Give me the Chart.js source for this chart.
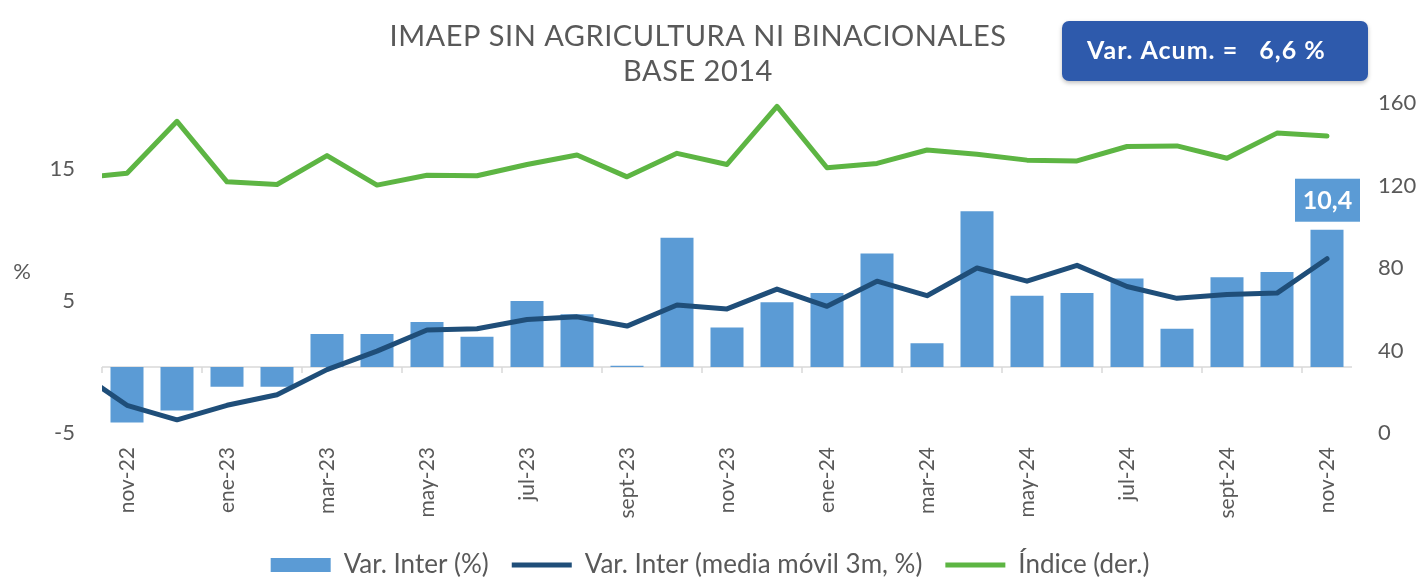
<!DOCTYPE html>
<html>
<head>
<meta charset="utf-8">
<script src="https://cdn.jsdelivr.net/npm/chart.js@4.4.1/dist/chart.umd.min.js"></script>
<style>
  html, body { margin: 0; padding: 0; background: #ffffff; }
  #wrap { width: 1420px; height: 577px; position: relative; }
</style>
</head>
<body>
<div id="wrap"><canvas id="imaep-chart"></canvas></div>
<script>
// months on the x axis (nov-22 .. nov-24)
const categories = [
  "nov-22", "dic-22", "ene-23", "feb-23", "mar-23", "abr-23", "may-23", "jun-23",
  "jul-23", "ago-23", "sept-23", "oct-23", "nov-23", "dic-23", "ene-24", "feb-24",
  "mar-24", "abr-24", "may-24", "jun-24", "jul-24", "ago-24", "sept-24", "oct-24", "nov-24"
];

// Var. Inter (%) - bars, left axis
const varInter = [
  -4.2, -3.3, -1.5, -1.5, 2.5, 2.5, 3.4, 2.3, 5.0, 4.0, 0.1, 9.8, 3.0,
  4.9, 5.6, 8.6, 1.8, 11.8, 5.4, 5.6, 6.7, 2.9, 6.8, 7.2, 10.4
];

// Var. Inter (media movil 3m, %) - dark line, left axis
const mediaMovil = [
  -2.9, -4.0, -2.9, -2.1, -0.2, 1.2, 2.8, 2.9, 3.6, 3.8, 3.1, 4.7, 4.4,
  5.9, 4.6, 6.5, 5.4, 7.5, 6.5, 7.7, 6.1, 5.2, 5.5, 5.6, 8.2
];

// Indice (der.) - green line, right axis
const indice = [
  125.9, 151.1, 121.8, 120.5, 134.5, 120.2, 125.0, 124.7, 130.2, 134.8, 124.2, 135.6, 130.2,
  158.4, 128.6, 130.7, 137.2, 135.1, 132.3, 131.9, 138.9, 139.2, 133.2, 145.4, 144.0
];

// month before the first category (oct-22): the lines come in from the plot edge
const prevMonth = "oct-22";
const mediaMovilPrev = -0.3;
const indicePrev = 123.5;

const leftTicks = [-5, 5, 15];
const rightTicks = [0, 40, 80, 120, 160];
const lastLabel = "10,4";
const accumText = "Var. Acum. =   6,6 %";
const titleLines = ["IMAEP SIN AGRICULTURA NI BINACIONALES", "BASE 2014"];

const FONT = 'Lato, "Open Sans", sans-serif';
const GREY = "#595959";

Chart.defaults.font.family = FONT;
Chart.defaults.color = GREY;

function linePoints(prev, values) {
  let pts = [{ x: -1, y: prev }];
  values.forEach((v, i) => pts.push({ x: i, y: v }));
  return pts;
}

// zero line with small tick marks, and the texts around the plot
const decorations = {
  id: "decorations",
  beforeDatasetsDraw(chart) {
    const { ctx, chartArea, scales } = chart;
    const y0 = scales.y.getPixelForValue(0);
    ctx.save();
    ctx.strokeStyle = "#d9d9d9";
    ctx.lineWidth = 1.5;
    ctx.beginPath();
    ctx.moveTo(chartArea.left, y0);
    ctx.lineTo(chartArea.right, y0);
    for (let i = -0.5; i <= categories.length; i += 2) {
      const px = scales.x.getPixelForValue(i);
      ctx.moveTo(px, y0);
      ctx.lineTo(px, y0 + 6);
    }
    ctx.stroke();
    ctx.restore();
  },
  afterDraw(chart) {
    const { ctx } = chart;
    ctx.save();

    // title
    ctx.fillStyle = GREY;
    ctx.textAlign = "center";
    ctx.textBaseline = "middle";
    ctx.letterSpacing = "0.5px";
    ctx.font = "29px " + FONT;
    ctx.fillText(titleLines[0], 698, 37);
    ctx.fillText(titleLines[1], 698, 72);
    ctx.letterSpacing = "0px";

    // "%" next to the left axis
    ctx.font = "22px " + FONT;
    ctx.fillText("%", 22, 272);

    // Var. Acum. box
    ctx.shadowColor = "rgba(0,0,0,0.25)";
    ctx.shadowBlur = 4;
    ctx.shadowOffsetY = 2;
    ctx.fillStyle = "#2E5AAC";
    ctx.beginPath();
    ctx.roundRect(1062, 21, 306, 60, 7);
    ctx.fill();
    ctx.shadowColor = "transparent";
    ctx.fillStyle = "#ffffff";
    ctx.font = "bold 25px " + FONT;
    ctx.letterSpacing = "1px";
    ctx.textAlign = "left";
    ctx.fillText(accumText, 1087, 51);
    ctx.letterSpacing = "0px";

    // label over the last bar
    const meta = chart.getDatasetMeta(0);
    const bar = meta.data[meta.data.length - 1];
    ctx.fillStyle = "#5B9BD5";
    ctx.fillRect(bar.x - 32, bar.y - 51, 65, 43);
    ctx.fillStyle = "#ffffff";
    ctx.textAlign = "center";
    ctx.font = "bold 25px " + FONT;
    ctx.fillText(lastLabel, bar.x + 0.5, bar.y - 29);

    ctx.restore();
  },
};

const ctx = document.getElementById("imaep-chart").getContext("2d");
const myChart = new Chart(ctx, {
  type: "bar",
  data: {
    datasets: [
      {
        type: "bar",
        label: "Var. Inter (%)",
        data: varInter.map((v, i) => ({ x: i, y: v })),
        backgroundColor: "#5B9BD5",
        barPercentage: 1,
        categoryPercentage: 0.66,
        yAxisID: "y",
        pointStyle: "rect",
        order: 2,
      },
      {
        type: "line",
        label: "Var. Inter (media móvil 3m, %)",
        data: linePoints(mediaMovilPrev, mediaMovil),
        borderColor: "#1F4E79",
        backgroundColor: "#1F4E79",
        borderWidth: 5,
        borderCapStyle: "round",
        borderJoinStyle: "round",
        pointRadius: 0,
        pointStyle: "line",
        tension: 0,
        yAxisID: "y",
        order: 1,
      },
      {
        type: "line",
        label: "Índice (der.)",
        data: linePoints(indicePrev, indice),
        borderColor: "#5DB543",
        backgroundColor: "#5DB543",
        borderWidth: 5,
        borderCapStyle: "round",
        borderJoinStyle: "round",
        pointRadius: 0,
        pointStyle: "line",
        tension: 0,
        yAxisID: "y1",
        order: 1,
      },
    ],
  },
  options: {
    responsive: true,
    maintainAspectRatio: false,
    animation: false,
    layout: { padding: { top: 103, left: 0, right: 0, bottom: -11 } },
    plugins: {
      title: { display: false },
      tooltip: { enabled: false },
      legend: {
        position: "bottom",
        labels: {
          usePointStyle: true,
          pointStyleWidth: 60,
          boxHeight: 14,
          padding: 23,
          color: GREY,
          font: { size: 26 },
          sort: (a, b) => a.datasetIndex - b.datasetIndex,
        },
      },
    },
    scales: {
      x: {
        type: "linear",
        offset: false,
        min: -0.5,
        max: categories.length - 0.5,
        grid: { display: false, drawTicks: false },
        border: { display: false },
        afterBuildTicks: (scale) => {
          scale.ticks = categories
            .map((c, i) => ({ value: i }))
            .filter((t) => t.value % 2 === 0);
        },
        afterFit: (scale) => {
          scale.height = 96;
        },
        ticks: {
          minRotation: 90,
          maxRotation: 90,
          padding: 14,
          color: GREY,
          font: { size: 21 },
          callback: (value) => categories[value],
        },
      },
      y: {
        position: "left",
        min: -5,
        max: 20,
        grid: { display: false, drawTicks: false },
        border: { display: false },
        afterBuildTicks: (scale) => {
          scale.ticks = leftTicks.map((v) => ({ value: v }));
        },
        afterFit: (scale) => {
          scale.width = 102;
        },
        ticks: { padding: 27, color: GREY, font: { size: 22 } },
      },
      y1: {
        position: "right",
        min: 0,
        max: 160,
        grid: { display: false, drawTicks: false },
        border: { display: false },
        afterBuildTicks: (scale) => {
          scale.ticks = rightTicks.map((v) => ({ value: v }));
        },
        afterFit: (scale) => {
          scale.width = 68;
        },
        ticks: { padding: 26, color: GREY, font: { size: 22 } },
      },
    },
  },
  plugins: [decorations],
});
</script>
</body>
</html>
